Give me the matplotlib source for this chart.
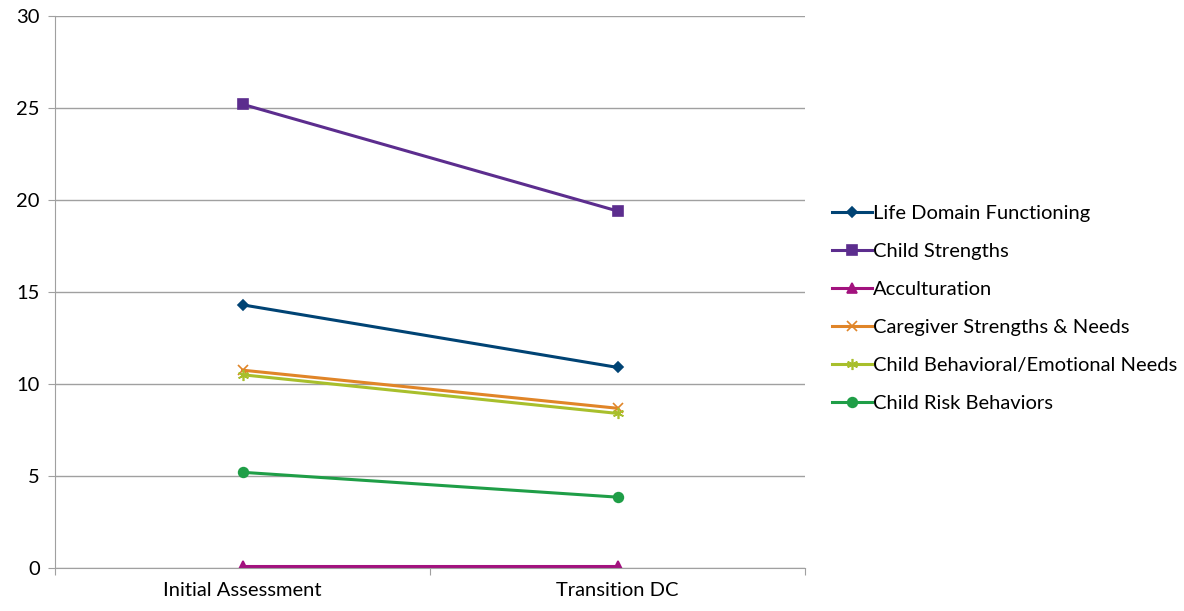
import matplotlib
matplotlib.use("Agg")
import matplotlib.pyplot as plt

plt.rcParams['font.family'] = ['Lato', 'DejaVu Sans']

categories = ['Initial Assessment', 'Transition DC']
life_domain = [14.3, 10.9]
child_strengths = [25.2, 19.4]
acculturation = [0.1, 0.1]
caregiver = [10.75, 8.68]
behavioral = [10.5, 8.4]
risk = [5.2, 3.85]

series = [
    ('Life Domain Functioning', life_domain, '#004374', 'D', 5.5),
    ('Child Strengths', child_strengths, '#5C2D8E', 's', 7),
    ('Acculturation', acculturation, '#A2127E', '^', 7),
    ('Caregiver Strengths & Needs', caregiver, '#E08528', 'x', 7),
    ('Child Behavioral/Emotional Needs', behavioral, '#A8BF2C', (6, 2, 0), 8),
    ('Child Risk Behaviors', risk, '#1F9E47', 'o', 7),
]

fig = plt.figure(figsize=(11.84, 6.11), dpi=100)
ax = fig.add_axes([0.0465, 0.0704, 0.6334, 0.9035])

x = [0.5, 1.5]
for name, vals, col, mk, ms in series:
    ax.plot(x, vals, color=col, lw=2.2, marker=mk, markersize=ms,
            markeredgecolor=col, markerfacecolor=col, markeredgewidth=1.2,
            label=name)

ax.set_xlim(0, 2)
ax.set_ylim(0, 30)
ax.set_yticks(range(0, 31, 5))
ax.set_xticks([0, 1, 2])
ax.set_xticklabels([])
ax.set_xticks(x, minor=True)
ax.set_xticklabels(categories, minor=True)
ax.tick_params(axis='x', which='minor', length=0, pad=10, labelsize=14.5)
ax.tick_params(axis='x', which='major', length=5, color='#A0A0A0')
ax.tick_params(axis='y', length=5, color='#A0A0A0', labelsize=14.5, pad=6)
ax.grid(axis='y', color='#A0A0A0', lw=1)
ax.set_axisbelow(True)
for s in ['top', 'right']:
    ax.spines[s].set_visible(False)
ax.spines['left'].set_color('#A0A0A0')
ax.spines['bottom'].set_color('#A0A0A0')

ax.legend(loc='center left', bbox_to_anchor=(1.036, 0.47), frameon=False,
          fontsize=14.5, handlelength=2.0, handletextpad=0.05,
          labelspacing=1.03, borderpad=0, borderaxespad=0)

fig.savefig('out.png', dpi=100)
